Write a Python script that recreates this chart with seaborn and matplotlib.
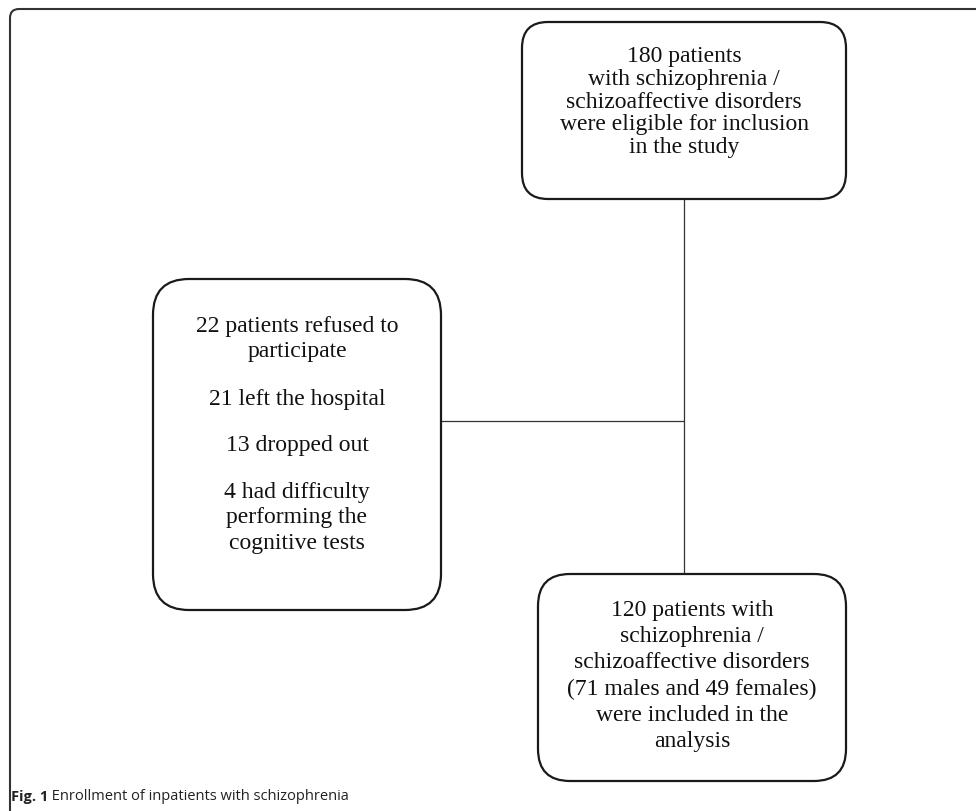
import matplotlib
matplotlib.use("Agg")
import matplotlib.pyplot as plt
from matplotlib.patches import FancyBboxPatch
import seaborn as sns

# flowchart content
top_lines = ["180 patients", "with schizophrenia /", "schizoaffective disorders",
             "were eligible for inclusion", "in the study"]
excluded_groups = [["22 patients refused to", "participate"],
                   ["21 left the hospital"],
                   ["13 dropped out"],
                   ["4 had difficulty", "performing the", "cognitive tests"]]
bottom_lines = ["120 patients with", "schizophrenia /", "schizoaffective disorders",
                "(71 males and 49 females)", "were included in the", "analysis"]
caption_bold = "Fig. 1"
caption_text = " Enrollment of inpatients with schizophrenia"

sns.set_theme(style="white")
plt.rcParams["font.family"] = ["Liberation Serif", "DejaVu Serif"]

fig = plt.figure(figsize=(9.76, 8.11), dpi=100)
ax = fig.add_axes([0, 0, 1, 1])
ax.set_xlim(0, 976)
ax.set_ylim(811, 0)
ax.axis("off")

# outer frame (runs off the right and bottom edge)
frame = FancyBboxPatch((10, 9), 1000, 830, boxstyle="round,pad=0,rounding_size=9",
                       fc="none", ec="#333333", lw=1.5)
ax.add_patch(frame)


def box(x0, y0, x1, y1, r):
    p = FancyBboxPatch((x0, y0), x1 - x0, y1 - y0,
                       boxstyle=f"round,pad=0,rounding_size={r}",
                       fc="white", ec="#1a1a1a", lw=1.6, zorder=3)
    ax.add_patch(p)


# connectors
ax.plot([684, 684], [199, 574], color="#333333", lw=0.9, zorder=2)
ax.plot([441, 684], [421, 421], color="#333333", lw=0.9, zorder=2)

box(522, 22, 846, 199, 26)
box(153, 279, 441, 610, 36)
box(538, 574, 846, 781, 32)

fs = 17
ax.text(684, 102, "\n".join(top_lines), ha="center", va="center",
        fontsize=fs, linespacing=1.1, color="#111111", zorder=4)

group_y = [339, 400, 445, 518]
for g, y in zip(excluded_groups, group_y):
    ax.text(297, y, "\n".join(g), ha="center", va="center",
            fontsize=fs, linespacing=1.27, color="#111111", zorder=4)

ax.text(692, 676, "\n".join(bottom_lines), ha="center", va="center",
        fontsize=fs, linespacing=1.33, color="#111111", zorder=4)

t1 = ax.text(11, 801, caption_bold, ha="left", va="baseline", fontsize=10.5,
             fontweight="bold", family=["Open Sans", "DejaVu Sans"], color="#222222")
ax.annotate(caption_text, xy=(1, 0), xycoords=t1, ha="left", va="bottom",
            fontsize=10.5, family=["Open Sans", "DejaVu Sans"], color="#222222")

fig.savefig("out.png", dpi=100)
